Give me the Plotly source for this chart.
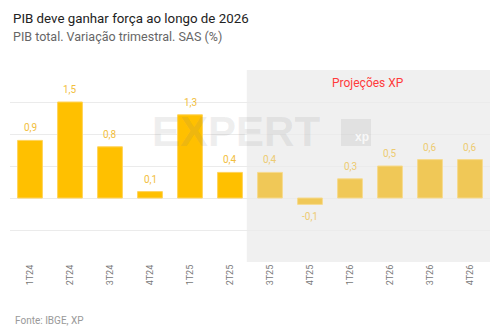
import plotly.graph_objects as go

categories = ["1T24", "2T24", "3T24", "4T24", "1T25", "2T25",
              "3T25", "4T25", "1T26", "2T26", "3T26", "4T26"]
values = [0.9, 1.5, 0.8, 0.1, 1.3, 0.4, 0.4, -0.1, 0.3, 0.5, 0.6, 0.6]
projected = [False, False, False, False, False, False,
             True, True, True, True, True, True]

title = "PIB deve ganhar força ao longo de 2026"
subtitle = "PIB total. Variação trimestral. SAS (%)"
source = "Fonte: IBGE, XP"
proj_label = "Projeções XP"

HIST_COLOR = "#FFC000"
PROJ_COLOR = "#F0C857"
HIST_TEXT = "#F2BE3C"
PROJ_TEXT = "#EDCB72"

W = 502 - 10 - 12
H = 335 - 70 - 73


def px(x, y):
    return (x - 10) / W, (335 - 73 - y) / H


fig = go.Figure()
fig.add_trace(go.Bar(
    x=categories,
    y=values,
    width=0.62,
    marker=dict(
        color=[PROJ_COLOR if p else HIST_COLOR for p in projected],
        line=dict(color=["#F6DA8E" if p else "#FFD35A" for p in projected], width=1),
    ),
    hoverinfo="skip",
))

# value labels
for c, v, p in zip(categories, values, projected):
    fig.add_annotation(
        x=c, y=v, xref="x", yref="y",
        text=f"{v:.1f}".replace(".", ","),
        showarrow=False,
        yanchor="bottom" if v >= 0 else "top",
        yshift=5 if v >= 0 else -5,
        font=dict(family="Roboto", size=10, color=PROJ_TEXT if p else HIST_TEXT),
    )

# projection shading
first_proj = projected.index(True)
fig.add_shape(type="rect", xref="x", yref="paper",
              x0=first_proj - 0.58, x1=len(categories) - 0.5, y0=0, y1=1,
              fillcolor="#F0F0F0", line=dict(width=0), layer="below")
fig.add_annotation(x=(first_proj - 0.58 + len(categories) - 0.5) / 2, y=1,
                   xref="x", yref="paper", yanchor="top", yshift=-4,
                   text=proj_label, showarrow=False,
                   font=dict(family="Roboto", size=12, color="#FF3B3B"))

# watermark
wx, wy = px(236, 131)
fig.add_annotation(x=wx, y=wy, xref="paper", yref="paper",
                   xanchor="center", yanchor="middle",
                   text="<b>EXPERT</b>", showarrow=False,
                   font=dict(family="Liberation Sans", size=42,
                             color="rgba(120,120,120,0.13)"))
bx0, by0 = px(341, 146)
bx1, by1 = px(371, 119)
fig.add_shape(type="rect", xref="paper", yref="paper",
              x0=bx0, x1=bx1, y0=by0, y1=by1,
              fillcolor="rgba(120,120,120,0.13)", line=dict(width=0), layer="above")
xx, xy = px(362, 146)
fig.add_annotation(x=xx, y=xy, xref="paper", yref="paper",
                   text="<b>xp</b>", showarrow=False, xanchor="center", yanchor="bottom",
                   font=dict(family="Liberation Sans", size=12,
                             color="rgba(255,255,255,0.8)"))

fig.update_layout(
    width=502, height=335,
    margin=dict(l=10, r=12, t=70, b=73),
    paper_bgcolor="white", plot_bgcolor="white",
    showlegend=False,
    font=dict(family="Roboto", color="#333333"),
    xaxis=dict(
        type="category", tickangle=-90, showgrid=False, zeroline=False,
        tickfont=dict(size=9, color="#777777"), ticks="", showline=False,
        range=[-0.5, len(categories) - 0.5],
    ),
    yaxis=dict(
        range=[-1, 2], dtick=0.5, showticklabels=False, showgrid=True,
        gridcolor="#EBEBEB", gridwidth=1, zeroline=True, zerolinecolor="#EBEBEB",
        zerolinewidth=1, ticks="",
    ),
)

tx, ty = px(11, 18)
fig.add_annotation(x=tx, y=ty, xref="paper", yref="paper", text=title,
                   showarrow=False, xanchor="left", yanchor="middle",
                   font=dict(family="Roboto", size=13.3, color="#222222"))
sx, sy = px(11, 36)
fig.add_annotation(x=sx, y=sy, xref="paper", yref="paper", text=subtitle,
                   showarrow=False, xanchor="left", yanchor="middle",
                   font=dict(family="Roboto", size=12.5, color="#666666"))
fx, fy = px(13, 320)
fig.add_annotation(x=fx, y=fy, xref="paper", yref="paper", text=source,
                   showarrow=False, xanchor="left", yanchor="middle",
                   font=dict(family="Roboto", size=10, color="#999999"))

fig.write_html("out.html")
